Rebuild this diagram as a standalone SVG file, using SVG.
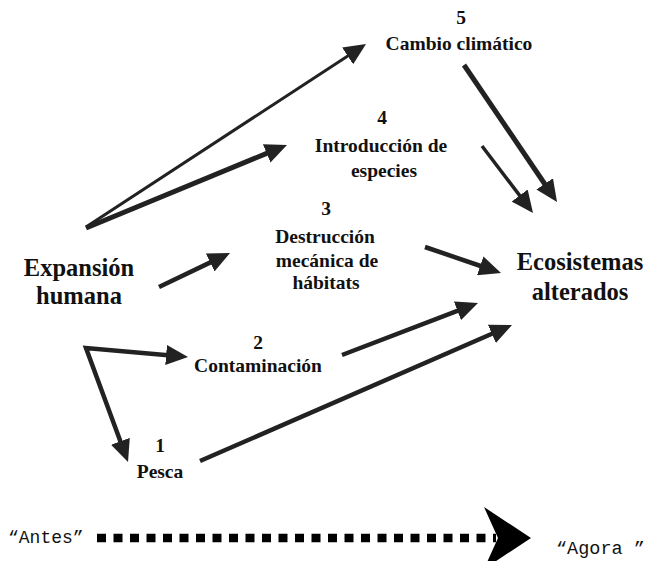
<svg xmlns="http://www.w3.org/2000/svg" width="655" height="561" viewBox="0 0 655 561">
<style>
text{font-family:"Liberation Serif","Times New Roman","DejaVu Serif",serif;font-weight:bold;fill:#111;text-anchor:middle}
.m{font-size:19.5px}
.b{font-size:24.5px}
.mono{font-family:"Liberation Mono","Courier New",monospace;font-weight:normal;font-size:18px;text-anchor:start}
.c{fill:none;stroke:#222;stroke-width:4.5;marker-end:url(#ah)}
</style>
<defs>
<marker id="ah" viewBox="0 0 22 20" markerWidth="22" markerHeight="20" markerUnits="userSpaceOnUse" refX="2" refY="10" orient="auto-start-reverse">
<path d="M0,0 L22,10 L0,20 z" fill="#222"/>
</marker>
</defs>
<rect width="655" height="561" fill="#fff"/>
<g id="connectors">
<line class="c" x1="86" y1="227" x2="349.3" y2="54.9" style="stroke-width:3"/>
<line class="c" x1="86" y1="228" x2="268.5" y2="152.6" style="stroke-width:5"/>
<line class="c" x1="159" y1="287" x2="212" y2="261.6"/>
<polyline class="c" points="168.1,355.2 86,348 121.1,443.2" style="marker-start:url(#ah)"/>
<line class="c" x1="342" y1="355" x2="459.3" y2="310.1"/>
<line class="c" x1="200" y1="461" x2="493.7" y2="333"/>
<line class="c" x1="425" y1="247" x2="482.1" y2="266.5"/>
<line class="c" x1="482" y1="146" x2="520.9" y2="197.1" style="stroke-width:3.5"/>
<line class="c" x1="464" y1="65" x2="545.8" y2="185.5" style="stroke-width:5"/>
</g>
<g id="timeline">
<line x1="97" y1="538" x2="496" y2="538" stroke="#000" stroke-width="8.5" stroke-dasharray="9 7.5"/>
<path d="M484,507 L531,538 L484,569 L498,538 z" fill="#000"/>
</g>
<g id="n-expansion"><text class="b" x="79" y="276">Expansión</text><text class="b" x="79" y="304">humana</text></g>
<g id="n-ecosistemas"><text class="b" x="580" y="270">Ecosistemas</text><text class="b" x="580" y="300">alterados</text></g>
<g id="n-5"><text class="m" x="461" y="24">5</text><text class="m" x="459" y="50">Cambio climático</text></g>
<g id="n-4"><text class="m" x="382" y="124">4</text><text class="m" x="381" y="152">Introducción de</text><text class="m" x="384" y="177">especies</text></g>
<g id="n-3"><text class="m" x="326" y="215">3</text><text class="m" x="325" y="243">Destrucción</text><text class="m" x="327" y="267">mecánica de</text><text class="m" x="326" y="289">hábitats</text></g>
<g id="n-2"><text class="m" x="258" y="349">2</text><text class="m" x="258" y="372">Contaminación</text></g>
<g id="n-1"><text class="m" x="160" y="452">1</text><text class="m" x="160" y="478">Pesca</text></g>
<g id="n-antes"><text class="mono" x="8" y="543">“Antes”</text></g>
<g id="n-agora"><text class="mono" x="556" y="554" style="font-size:18.5px">“Agora ”</text></g>
</svg>
